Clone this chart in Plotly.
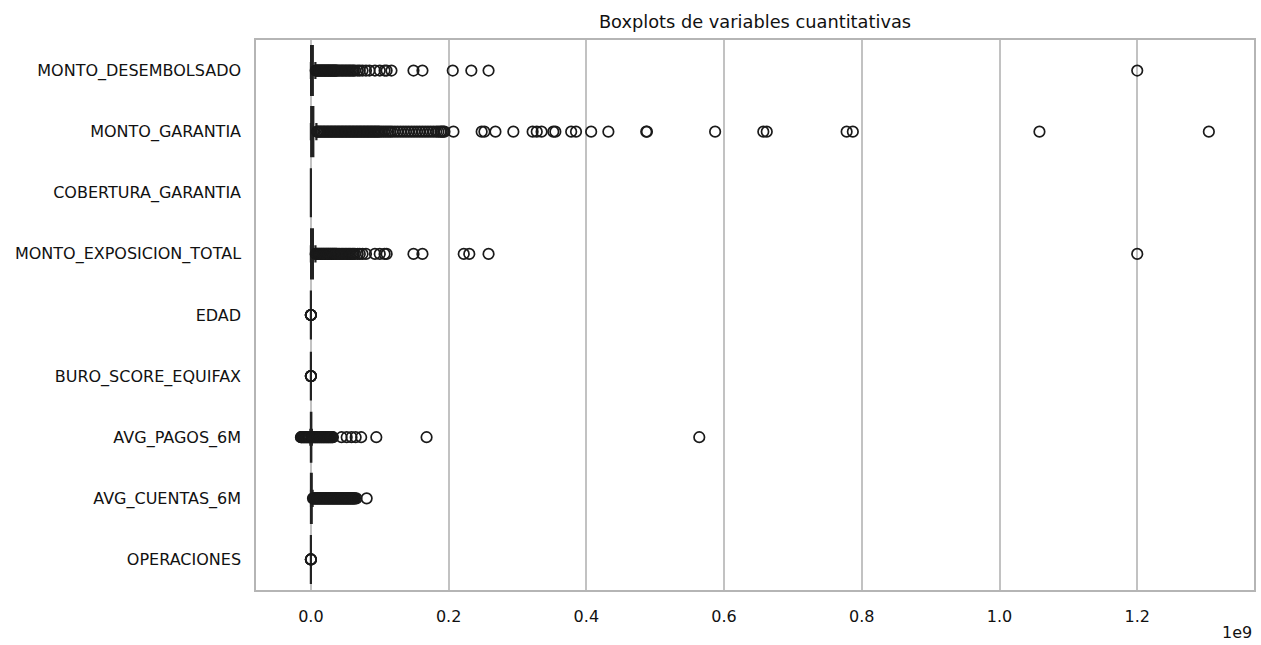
import plotly.graph_objects as go

# ---------------- data ----------------
categories = ["MONTO_DESEMBOLSADO", "MONTO_GARANTIA", "COBERTURA_GARANTIA",
              "MONTO_EXPOSICION_TOTAL", "EDAD", "BURO_SCORE_EQUIFAX",
              "AVG_PAGOS_6M", "AVG_CUENTAS_6M", "OPERACIONES"]

# box statistics (raw units)
q1_vals = [0.3e6, 0.5e6, 0.6, 0.3e6, 32, 560, 0.05e6, 0.1e6, 1]
median_vals = [1.0e6, 1.5e6, 0.8, 1.0e6, 41, 680, 0.2e6, 0.4e6, 2]
q3_vals = [2.8e6, 3.5e6, 1.0, 2.9e6, 52, 780, 0.6e6, 1.2e6, 3]
lowerfence_vals = [0.01e6, 0.01e6, 0.2, 0.01e6, 18, 250, -0.8e6, 0.0, 1]
upperfence_vals = [6.5e6, 8.0e6, 1.5, 6.6e6, 82, 999, 1.4e6, 2.5e6, 6]

# outliers (money variables in millions)
out_desembolsado_mm = [7, 8, 9, 10, 11, 12, 13, 14, 15, 16, 17, 18, 19, 20, 21, 22, 23, 24, 25,
                       26, 27, 28, 29, 30, 31, 32, 33, 34, 35, 36, 37, 38, 40, 42, 44, 46, 48,
                       50, 52, 54, 56, 58, 60, 62, 64, 68, 71, 75, 80, 85, 93, 100, 107, 110,
                       117, 149, 162, 206, 233, 258, 1200]
out_garantia_mm = [9, 10, 12, 14, 16, 18, 20, 22, 24, 26, 28, 30, 32, 34, 36, 38, 40, 42, 44,
                   46, 48, 50, 52, 54, 56, 58, 60, 62, 64, 66, 68, 70, 72, 74, 76, 78, 80, 82,
                   84, 86, 88, 90, 92, 94, 96, 98, 100, 103, 106, 109, 112, 115, 118, 122,
                   126, 130, 134, 138, 142, 146, 150, 154, 158, 162, 166, 170, 174, 178, 182,
                   185, 188, 190, 192, 194, 207, 248, 252, 268, 294, 322, 328, 335, 352, 355,
                   378, 385, 407, 432, 487, 488, 587, 657, 662, 778, 787, 1058, 1304]
out_cobertura = []
out_exposicion_mm = [7, 8, 9, 10, 11, 12, 13, 14, 15, 16, 17, 18, 19, 20, 21, 22, 23, 24, 25,
                     26, 27, 28, 29, 30, 31, 32, 33, 34, 35, 36, 37, 38, 40, 42, 44, 46, 48,
                     50, 52, 54, 56, 58, 60, 62, 64, 68, 71, 75, 80, 93, 100, 107, 110, 149,
                     162, 222, 230, 258, 1200]
out_edad = [83, 85, 88, 90, 93]
out_buro = [0, 5, 12, 999]
out_pagos_mm = [-14.5, -14, -13, -12, -11, -10, -9, -8, -7, -6, -5, -4, -3, -2, -1.5, 2, 3, 4,
                5, 6, 7, 8, 9, 10, 11, 12, 13, 14, 15, 16, 17, 18, 19, 20, 21, 22, 23, 24, 25,
                26, 27, 28, 29, 30, 31, 32, 44.5, 52, 59, 65, 73, 95, 168, 564]
out_cuentas_mm = [3, 4, 5, 6, 7, 8, 9, 10, 11, 12, 13, 14, 15, 16, 17, 18, 19, 20, 21, 22, 23,
                  24, 25, 26, 27, 28, 29, 30, 31, 32, 33, 34, 35, 36, 37, 38, 39, 40, 41, 42,
                  43, 44, 45, 46, 47, 48, 49, 50, 51, 52, 53, 54, 55, 56, 57, 58, 59, 60, 61,
                  62, 63, 64, 66, 81]
out_operaciones = [12, 15, 20, 25]

x_tick_vals = [0.0, 0.2e9, 0.4e9, 0.6e9, 0.8e9, 1.0e9, 1.2e9]
x_tick_text = ["0.0", "0.2", "0.4", "0.6", "0.8", "1.0", "1.2"]

MM = 1e6
outlier_sets = [
    [v * MM for v in out_desembolsado_mm],
    [v * MM for v in out_garantia_mm],
    list(out_cobertura),
    [v * MM for v in out_exposicion_mm],
    list(out_edad),
    list(out_buro),
    [v * MM for v in out_pagos_mm],
    [v * MM for v in out_cuentas_mm],
    list(out_operaciones),
]

# ---------------- figure ----------------
FONT = "DejaVu Sans"
TXT = "#111111"
fig = go.Figure()

fig.add_trace(go.Box(
    y=categories,
    q1=q1_vals, median=median_vals, q3=q3_vals,
    lowerfence=lowerfence_vals, upperfence=upperfence_vals,
    orientation="h",
    width=0.8,
    fillcolor="#3a5f8a",
    line=dict(color="#222222", width=2.2),
    whiskerwidth=0.35,
    boxpoints=False,
    showlegend=False,
    hoverinfo="skip",
))

ox, oy = [], []
for cat, vals in zip(categories, outlier_sets):
    ox.extend(vals)
    oy.extend([cat] * len(vals))

fig.add_trace(go.Scatter(
    x=ox, y=oy, mode="markers",
    marker=dict(symbol="circle-open", size=10.5, color="#1a1a1a",
                line=dict(width=1.7, color="#1a1a1a")),
    showlegend=False, hoverinfo="skip",
))

fig.update_layout(
    width=1261, height=645,
    margin=dict(l=256, r=5, t=40, b=55),
    paper_bgcolor="white", plot_bgcolor="white",
    font=dict(family=FONT, size=16, color=TXT),
    title=dict(text="Boxplots de variables cuantitativas", x=0.5, xref="paper",
               xanchor="center", y=1 - 22 / 645, yanchor="middle",
               font=dict(family=FONT, size=17.8, color=TXT)),
    xaxis=dict(range=[-55 / 690 * 1e9, 945 / 690 * 1e9],
               tickvals=x_tick_vals, ticktext=x_tick_text,
               showgrid=True, gridcolor="#c2c2c2", gridwidth=1.5,
               zeroline=False, showline=True, mirror=True,
               linecolor="#b5b5b5", linewidth=1.5,
               ticks="", ticklabelstandoff=11,
               tickfont=dict(family=FONT, size=16, color=TXT)),
    yaxis=dict(type="category", categoryorder="array", categoryarray=categories,
               range=[8.5, -0.5], showgrid=False, zeroline=False,
               showline=True, mirror=True, linecolor="#b5b5b5", linewidth=1.5,
               ticks="", ticklabelstandoff=10,
               tickfont=dict(family=FONT, size=16, color=TXT)),
    annotations=[dict(text="1e9", xref="paper", yref="paper", x=1.0, y=-(632 - 590) / 550,
                      xanchor="right", yanchor="middle", showarrow=False,
                      font=dict(family=FONT, size=16, color=TXT))],
)

fig.write_html("out.html")
